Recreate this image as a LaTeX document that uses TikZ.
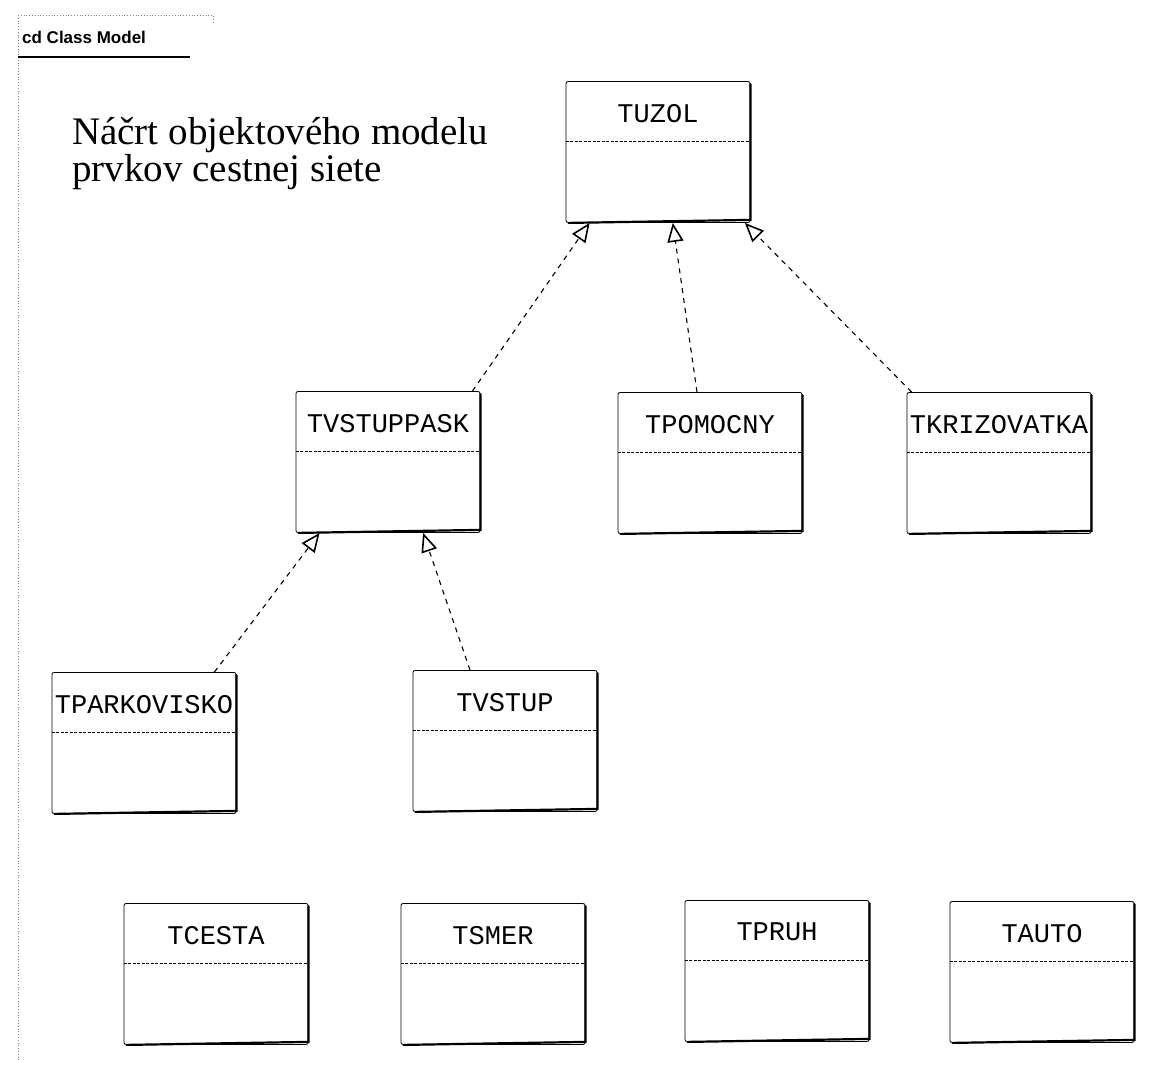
\documentclass[tikz,border=0pt]{standalone}
\usepackage{fontspec}
\setmainfont{Liberation Serif}
\newfontfamily\classfont{Liberation Mono}
\newfontfamily\tabfont{Liberation Sans}
\usetikzlibrary{arrows.meta, calc}

\begin{document}
\begin{tikzpicture}[x=1pt, y=-1pt,
  classbox/.style={rectangle, draw=black, line width=0.8pt, rounded corners=2pt,
                   minimum width=184pt, minimum height=141pt, inner sep=0pt},
  heavyedge/.style={draw=black, line width=2.2pt, line cap=round},
  divider/.style={draw=black, line width=0.7pt, dash pattern=on 3pt off 1.5pt},
  classname/.style={font=\classfont\fontsize{27}{30}\selectfont, inner sep=0pt},
  realize/.style={draw=black, line width=1.1pt, dash pattern=on 5pt off 5pt,
                  -{Triangle[open, length=19pt, width=16pt, line width=1.6pt]}},
]
\useasboundingbox (0,0) rectangle (1168,1084);

% frame tab and left frame border
\draw[gray, line width=0.8pt, dotted] (18,15) -- (213,15) -- (213,24);
\draw[gray, line width=0.8pt, dotted] (18,15) -- (18,1060);
\draw[black, line width=1.6pt] (18,57) -- (190,57);
\node[font=\tabfont\bfseries\fontsize{17}{19}\selectfont, anchor=west, inner sep=0pt] (frametab) at (22,37) {cd Class Model};

% title
\node[font=\fontsize{39}{37}\selectfont, align=left, anchor=north west, inner sep=0pt]
  (title) at (72,117) {Náčrt objektového modelu\\prvkov cestnej siete};

% classes: name / centre x / centre y / label
\foreach \name/\x/\y/\lbl in {
  uzol/658/152/TUZOL,
  vstuppask/388/462/TVSTUPPASK,
  pomocny/710/463/TPOMOCNY,
  krizovatka/999/463/TKRIZOVATKA,
  parkovisko/144/743/TPARKOVISKO,
  vstup/505/741/TVSTUP,
  cesta/216/974/TCESTA,
  smer/493/974/TSMER,
  pruh/777/971/TPRUH,
  auto/1042/972/TAUTO%
} {
  \node[classbox] (\name) at (\x,\y) {};
  \draw[heavyedge] ([yshift=-3pt]\name.north east) -- ([yshift=3pt]\name.south east)
                   -- ([xshift=3pt]\name.south west);
  \draw[divider] ([yshift=-60pt]\name.north west) -- ([yshift=-60pt]\name.north east);
  \node[classname] (\name-t) at ([yshift=-32pt]\name.north) {\lbl};
}

% generalisations up to TUZOL
\draw[realize] ([xshift=-8pt]vstuppask.north east) -- ($(uzol.south west)!0.13!(uzol.south east)$);
\draw[realize] ([xshift=-13pt]pomocny.north) -- ($(uzol.south west)!0.58!(uzol.south east)$);
\draw[realize] ([xshift=5pt]krizovatka.north west) -- ($(uzol.south west)!0.97!(uzol.south east)$);

% generalisations up to TVSTUPPASK
\draw[realize] ([xshift=-22pt]parkovisko.north east) -- ($(vstuppask.south west)!0.13!(vstuppask.south east)$);
\draw[realize] ([xshift=-35pt]vstup.north) -- ($(vstuppask.south west)!0.69!(vstuppask.south east)$);
\end{tikzpicture}
\end{document}
